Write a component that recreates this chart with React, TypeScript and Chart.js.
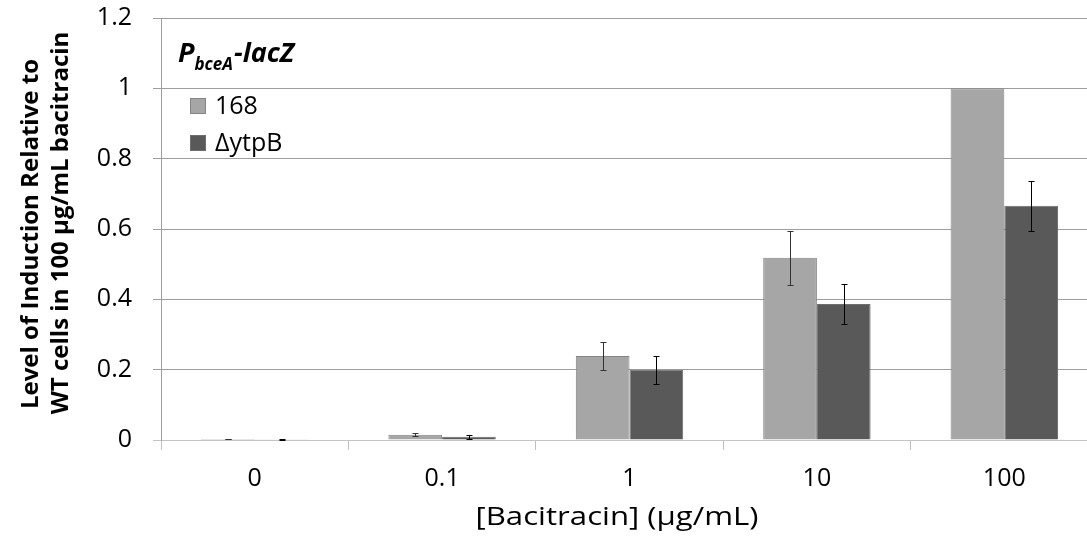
import React, { useEffect, useRef } from 'react';
import { Chart, registerables } from 'chart.js';

Chart.register(...registerables);

const categories = ['0', '0.1', '1', '10', '100'];
const seriesLabels = ['168', 'ΔytpB'];
const wtValues = [0.003, 0.015, 0.239, 0.518, 1.0];
const wtErrors = [0.001, 0.005, 0.04, 0.077, 0];
const ytpBValues = [0.002, 0.009, 0.2, 0.387, 0.666];
const ytpBErrors = [0.001, 0.005, 0.04, 0.058, 0.071];
const yMin = 0;
const yMax = 1.2;
const yStep = 0.2;
const yTitleLines = ['Level of Induction Relative to', 'WT cells in 100 μg/mL bacitracin'];
const xTitle = '[Bacitracin] (μg/mL)';
const titleMain = 'P';
const titleSub = 'bceA';
const titleRest = '-lacZ';

const FONT = '"Open Sans", "Noto Sans", sans-serif';

const errorBarPlugin = {
  id: 'errorBars',
  afterDatasetsDraw(chart: any) {
    const ctx = chart.ctx;
    const yScale = chart.scales.y;
    chart.data.datasets.forEach((ds: any, i: number) => {
      const meta = chart.getDatasetMeta(i);
      meta.data.forEach((bar: any, j: number) => {
        const v = ds.data[j];
        const e = ds.errors[j];
        if (!e) return;
        const yT = Math.round(yScale.getPixelForValue(v + e)) + 0.5;
        const yB = Math.round(yScale.getPixelForValue(v - e)) + 0.5;
        const x = Math.round(bar.x) + 0.5;
        ctx.save();
        ctx.strokeStyle = ds.errorColor;
        ctx.lineWidth = 1;
        ctx.beginPath();
        ctx.moveTo(x, yT);
        ctx.lineTo(x, yB);
        ctx.moveTo(x - 3, yT);
        ctx.lineTo(x + 3, yT);
        ctx.moveTo(x - 3, yB);
        ctx.lineTo(x + 3, yB);
        ctx.stroke();
        ctx.restore();
      });
    });
  },
};

const textPlugin = {
  id: 'texts',
  afterDraw(chart: any) {
    const ctx = chart.ctx;
    const area = chart.chartArea;
    ctx.save();
    ctx.fillStyle = '#000';
    ctx.textBaseline = 'alphabetic';
    // Y axis title (two lines)
    ctx.font = `bold 24px ${FONT}`;
    ctx.textAlign = 'center';
    ctx.save();
    ctx.translate(38, 234);
    ctx.rotate(-Math.PI / 2);
    ctx.fillText(yTitleLines[0], 0, 0);
    ctx.restore();
    ctx.save();
    ctx.translate(68, 223);
    ctx.rotate(-Math.PI / 2);
    ctx.fillText(yTitleLines[1], 0, 0);
    ctx.restore();
    // X axis title
    ctx.font = `26px ${FONT}`;
    ctx.textAlign = 'center';
    const w = ctx.measureText(xTitle).width;
    ctx.save();
    ctx.translate(617, 525);
    ctx.scale(Math.max(1, 283 / w), 1);
    ctx.fillText(xTitle, 0, 0);
    ctx.restore();
    // Inner title
    ctx.textAlign = 'left';
    let x = area.left + 17;
    const base = area.top + 44;
    ctx.font = `italic bold 27px ${FONT}`;
    ctx.fillText(titleMain, x, base);
    x += ctx.measureText(titleMain).width;
    ctx.font = `italic bold 17px ${FONT}`;
    ctx.fillText(titleSub, x, base + 8);
    x += ctx.measureText(titleSub).width + 1;
    ctx.font = `italic bold 27px ${FONT}`;
    ctx.fillText(titleRest, x, base);
    // Legend
    ctx.font = `25px ${FONT}`;
    ctx.textBaseline = 'middle';
    chart.data.datasets.forEach((ds: any, i: number) => {
      const yc = area.top + 88 + i * 37;
      const sx = area.left + 29;
      ctx.fillStyle = ds.backgroundColor;
      ctx.fillRect(sx, yc - 8, 16, 16);
      ctx.strokeStyle = ds.borderColor;
      ctx.lineWidth = 1;
      ctx.strokeRect(sx + 0.5, yc - 7.5, 15, 15);
      ctx.fillStyle = '#000';
      ctx.fillText(ds.label, sx + 25, yc + 1);
    });
    ctx.restore();
  },
};

export default function App() {
  const ref = useRef<HTMLCanvasElement | null>(null);
  useEffect(() => {
    if (!ref.current) return;
    const chart = new Chart(ref.current, {
      type: 'bar',
      data: {
        labels: categories,
        datasets: [
          {
            label: seriesLabels[0],
            data: wtValues,
            errors: wtErrors,
            errorColor: '#333333',
            backgroundColor: '#a6a6a6',
            borderColor: '#858585',
            borderWidth: 1,
            categoryPercentage: 0.573,
            barPercentage: 1,
          } as any,
          {
            label: seriesLabels[1],
            data: ytpBValues,
            errors: ytpBErrors,
            errorColor: '#000000',
            backgroundColor: '#595959',
            borderColor: '#6e6e6e',
            borderWidth: 1,
            categoryPercentage: 0.573,
            barPercentage: 1,
          } as any,
        ],
      },
      options: {
        responsive: false,
        animation: false,
        layout: { padding: { top: 18, right: 0, bottom: 0, left: 0 } },
        plugins: {
          legend: { display: false },
          tooltip: { enabled: false },
          title: { display: false },
        },
        scales: {
          x: {
            afterFit(scale: any) {
              scale.height = 102;
              scale.paddingLeft = 0;
              scale.paddingRight = 0;
            },
            grid: {
              offset: true,
              drawOnChartArea: false,
              drawTicks: true,
              tickLength: 10,
              color: '#bfbfbf',
            },
            border: { color: '#c4c4c4', width: 1 },
            ticks: {
              color: '#000',
              font: { family: FONT, size: 25 },
              padding: 14,
            },
          },
          y: {
            min: yMin,
            max: yMax,
            afterFit(scale: any) {
              scale.width = 161;
              scale.paddingTop = 0;
              scale.paddingBottom = 0;
            },
            grid: {
              drawTicks: true,
              tickLength: 8,
              color: (c: any) => (c.tick && c.tick.value === 0 ? '#c4c4c4' : '#9e9e9e'),
            },
            border: { color: '#9e9e9e', width: 1 },
            ticks: {
              stepSize: yStep,
              color: '#000',
              font: { family: FONT, size: 25 },
              padding: 21,
              callback: (v: any) => String(+Number(v).toFixed(1)),
            },
          },
        },
      },
      plugins: [errorBarPlugin, textPlugin],
    });
    return () => chart.destroy();
  }, []);
  return (
    <div
      style={{
        position: 'absolute',
        left: 0,
        top: 0,
        width: 1087,
        height: 542,
        overflow: 'hidden',
        background: '#fff',
      }}
    >
      <canvas ref={ref} width={1098} height={542} style={{ display: 'block' }} />
    </div>
  );
}
